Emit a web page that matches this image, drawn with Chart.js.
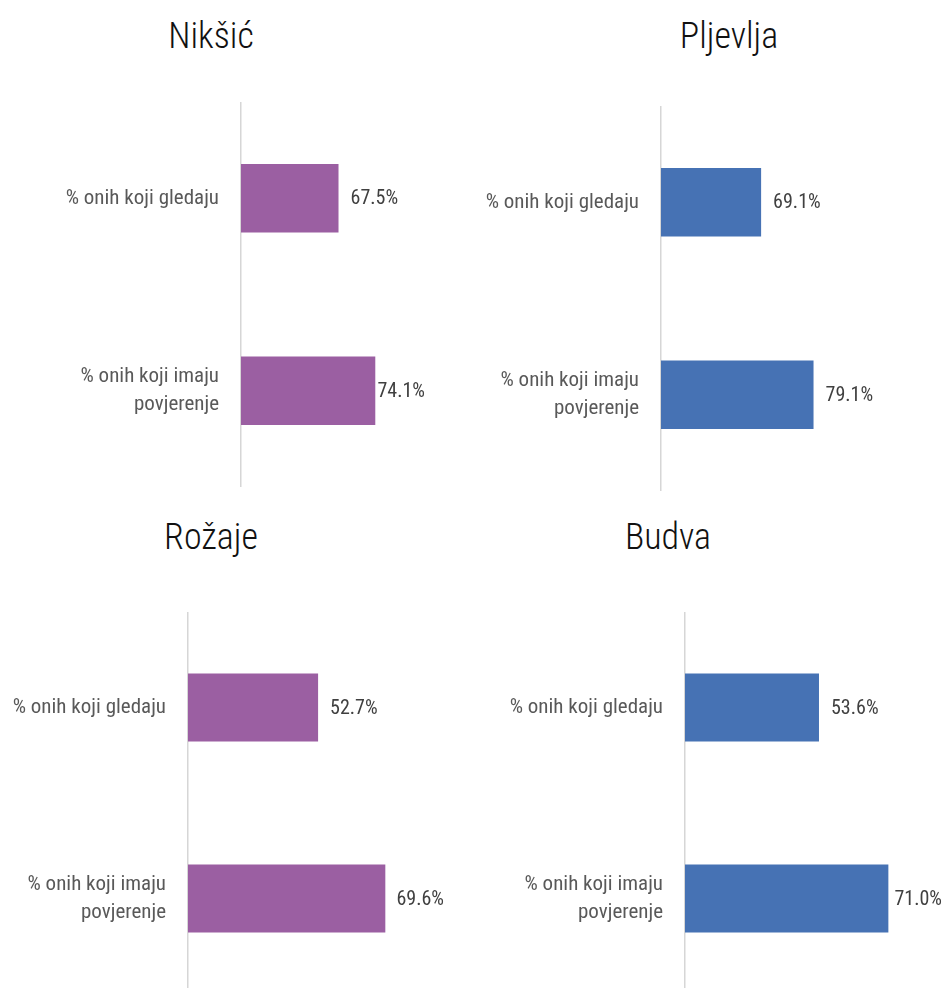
<!DOCTYPE html>
<html>
<head>
<meta charset="utf-8">
<script src="https://cdn.jsdelivr.net/npm/chart.js@4.4.1/dist/chart.umd.min.js"></script>
<style>
    html, body { margin: 0; padding: 0; background: #fff; overflow: hidden; }
    body { width: 943px; height: 988px; position: relative; }
    .box { position: absolute; }
    .title {
        position: absolute; width: 240px; text-align: center;
        font-family: 'Roboto Condensed', 'Open Sans', sans-serif;
        font-stretch: condensed;
        font-size: 36px; line-height: 36px; color: #111; font-weight: 300;
    }
</style>
</head>
<body>
<script>
// Data
const cities = ['Nikšić', 'Pljevlja', 'Rožaje', 'Budva'];
const categories = ['% onih koji gledaju', ['% onih koji imaju', 'povjerenje']];
const niksic = [67.5, 74.1];
const pljevlja = [69.1, 79.1];
const rozaje = [52.7, 69.6];
const budva = [53.6, 71.0];
const seriesValues = [niksic, pljevlja, rozaje, budva];
const barColors = ['#9b5fa2', '#4672b4', '#9b5fa2', '#4672b4'];
const axisMin = [50, 50, 20, 20];
const axisMax = [83.2, 103.8, 84.6, 84.7];

// Layout (px) per panel: canvas box, y-axis width, title centre/top
const panels = [
    { left: 0,   top: 102, width: 426, height: 385, yWidth: 241, titleX: 211, titleTop: 18 },
    { left: 470, top: 106, width: 473, height: 385, yWidth: 191, titleX: 729, titleTop: 18 },
    { left: 0,   top: 612, width: 445, height: 382, yWidth: 188, titleX: 211, titleTop: 519 },
    { left: 470, top: 612, width: 473, height: 382, yWidth: 215, titleX: 668, titleTop: 519 }
];

const FONT = "'Roboto Condensed', 'Open Sans', sans-serif";

// value labels at bar end, pulled back inside the canvas when they'd overflow
const valueLabels = {
    id: 'valueLabels',
    afterDatasetsDraw(chart) {
        const ctx = chart.ctx;
        ctx.save();
        ctx.font = '400 condensed 20px ' + FONT;
        ctx.fillStyle = '#404040';
        ctx.textBaseline = 'middle';
        ctx.textAlign = 'left';
        chart.getDatasetMeta(0).data.forEach((bar, i) => {
            const txt = chart.data.datasets[0].data[i].toFixed(1) + '%';
            const w = ctx.measureText(txt).width;
            const x = Math.min(bar.x + 12, chart.width - w - 1);
            ctx.fillText(txt, x, bar.y + 1);
        });
        ctx.restore();
    }
};

panels.forEach((p, i) => {
    const title = document.createElement('div');
    title.className = 'title';
    title.textContent = cities[i];
    title.style.left = (p.titleX - 120) + 'px';
    title.style.top = p.titleTop + 'px';
    document.body.appendChild(title);

    const box = document.createElement('div');
    box.className = 'box';
    box.style.left = p.left + 'px';
    box.style.top = p.top + 'px';
    box.style.width = p.width + 'px';
    box.style.height = p.height + 'px';
    const canvas = document.createElement('canvas');
    box.appendChild(canvas);
    document.body.appendChild(box);

    new Chart(canvas, {
        type: 'bar',
        data: {
            labels: categories,
            datasets: [{
                data: seriesValues[i],
                backgroundColor: barColors[i],
                barPercentage: 0.355,
                categoryPercentage: 1
            }]
        },
        options: {
            indexAxis: 'y',
            responsive: true,
            maintainAspectRatio: false,
            animation: false,
            layout: { padding: 0 },
            scales: {
                x: {
                    display: false,
                    min: axisMin[i],
                    max: axisMax[i]
                },
                y: {
                    afterFit: (scale) => {
                        scale.width = p.yWidth;
                        scale.paddingTop = 0;
                        scale.paddingBottom = 0;
                    },
                    grid: { display: false, drawTicks: false },
                    border: { display: true, color: '#d6d6d6', width: 1.5 },
                    ticks: {
                        padding: 22,
                        color: '#595959',
                        font: { family: FONT, size: 21, weight: '400 condensed', lineHeight: 1.35 }
                    }
                }
            },
            plugins: {
                legend: { display: false },
                tooltip: { enabled: false }
            }
        },
        plugins: [valueLabels]
    });
});
</script>
</body>
</html>
